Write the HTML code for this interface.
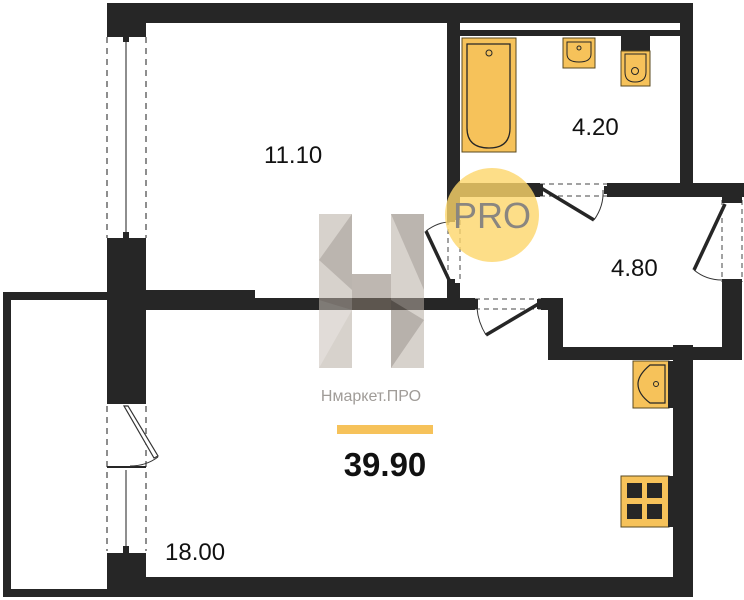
<!DOCTYPE html>
<html><head><meta charset="utf-8"><style>
html,body{margin:0;padding:0;background:#fff;width:744px;height:600px;overflow:hidden}
svg{display:block}
</style></head><body>
<svg width="744" height="600" viewBox="0 0 744 600" xmlns="http://www.w3.org/2000/svg" font-family="Liberation Sans, sans-serif">
<g fill="#262626">
<!-- top wall -->
<rect x="107" y="3" width="586" height="20"/>
<!-- left wall pieces -->
<rect x="107" y="3" width="39" height="30"/>
<rect x="107" y="238" width="39" height="164"/>
<rect x="107" y="553" width="39" height="44"/>
<!-- bottom wall -->
<rect x="107" y="577" width="586" height="20"/>
<!-- right wall living -->
<rect x="673" y="345" width="20" height="252"/>
<!-- balcony -->
<rect x="3" y="292" width="104" height="8"/>
<rect x="3" y="292" width="8" height="305"/>
<rect x="3" y="589" width="104" height="8"/>
<!-- bedroom/living wall -->
<rect x="146" y="290" width="109" height="20"/>
<rect x="146" y="298" width="329" height="12"/>
<rect x="541" y="298" width="22" height="12"/>
<rect x="548" y="298" width="15" height="62"/>
<!-- bathroom left wall -->
<rect x="447" y="23" width="13" height="197"/>
<rect x="447" y="283" width="13" height="27"/>
<!-- bathroom inner top strip -->
<rect x="460" y="30" width="220" height="6"/>
<!-- bathroom right wall -->
<rect x="680" y="3" width="13" height="194"/>
<!-- bath/hall wall -->
<rect x="447" y="183" width="93" height="14"/>
<rect x="607" y="183" width="137" height="14"/>
<!-- hall right wall -->
<rect x="722" y="183" width="20" height="17"/>
<rect x="722" y="282" width="20" height="78"/>
<!-- hall bottom wall -->
<rect x="548" y="347" width="194" height="13"/>
</g>
<rect x="460" y="23" width="220" height="7" fill="#fff"/>
<!-- left windows -->
<g stroke="#444" stroke-width="1.2" fill="none">
<line x1="107" y1="37" x2="107" y2="238" stroke-dasharray="6,5"/>
<line x1="146" y1="37" x2="146" y2="238" stroke-dasharray="6,5"/>
<line x1="126" y1="40" x2="126" y2="234"/>
<line x1="107" y1="406" x2="107" y2="551" stroke-dasharray="6,5"/>
<line x1="146" y1="406" x2="146" y2="551" stroke-dasharray="6,5"/>
<line x1="126" y1="470" x2="126" y2="550"/>
</g>
<g fill="#262626">
<rect x="107" y="33" width="39" height="4"/><rect x="123" y="37" width="6" height="5"/>
<rect x="123" y="232" width="6" height="6"/>
<rect x="107" y="402" width="39" height="2"/><rect x="107" y="466" width="39" height="2"/>
<rect x="123" y="546" width="6" height="7"/>
</g>
<polygon points="124,406 128,406 158,456 154,458" fill="#fff" stroke="#333" stroke-width="1.2"/>
<path d="M130 466 Q146 466 158 457" stroke="#333" fill="none"/>
<!-- dashed door openings -->
<g stroke="#444" stroke-width="1" fill="none" stroke-dasharray="5,4">
<line x1="540" y1="184" x2="607" y2="184"/><line x1="540" y1="196" x2="607" y2="196"/>
<line x1="448" y1="220" x2="448" y2="283"/><line x1="460" y1="220" x2="460" y2="283"/>
<line x1="475" y1="299" x2="541" y2="299"/><line x1="475" y1="309" x2="541" y2="309"/>
<line x1="722" y1="200" x2="722" y2="282"/><line x1="742" y1="200" x2="742" y2="282"/>
</g>
<!-- door leaves -->
<g stroke="#262626" stroke-width="3.5" fill="none">
<line x1="541" y1="188" x2="594" y2="220"/>
<line x1="450" y1="282" x2="426" y2="231"/>
<line x1="540" y1="303" x2="486" y2="335"/>
<line x1="725" y1="204" x2="694" y2="270"/>
</g>
<g stroke="#333" stroke-width="1" fill="none">
<path d="M594 220 Q604 206 603 190"/>
<path d="M426 231 Q438 222 450 222"/>
<path d="M486 335 Q478 322 477 308"/>
<path d="M694 270 Q706 280 722 280"/>
</g>
<g fill="#262626">
<rect x="536" y="184" width="7" height="12"/><rect x="604" y="186" width="5" height="8"/>
<rect x="447" y="216" width="8" height="6"/><rect x="447" y="279" width="8" height="6"/>
<rect x="473" y="299" width="5" height="10"/><rect x="537" y="299" width="6" height="10"/>
<rect x="722" y="198" width="20" height="5"/><rect x="722" y="279" width="20" height="5"/>
</g>
<!-- bathtub -->
<rect x="462" y="38" width="54" height="114" fill="#f6c25a" stroke="#5a4a20" stroke-width="1"/>
<path d="M467 44 H510 V128 Q510 148 489 148 Q467 148 467 128 Z" fill="#f6c25a" stroke="#262626" stroke-width="1.3"/>
<circle cx="489" cy="53" r="3" fill="none" stroke="#262626"/>
<!-- sink bath -->
<rect x="563" y="38" width="32" height="30" fill="#f6c25a" stroke="#5a4a20"/>
<path d="M567 42 H591 V54 Q591 62 579 62 Q567 62 567 54 Z" fill="none" stroke="#262626"/>
<circle cx="579" cy="48" r="2" fill="none" stroke="#262626"/>
<!-- toilet -->
<rect x="621" y="36" width="29" height="15" fill="#262626"/>
<rect x="621" y="51" width="29" height="35" fill="#f6c25a" stroke="#5a4a20"/>
<path d="M625 54 H646 V72 Q646 82 635 82 Q625 82 625 72 Z" fill="none" stroke="#262626"/>
<circle cx="635" cy="71" r="3.5" fill="none" stroke="#262626"/>
<!-- kitchen sink -->
<rect x="633" y="361" width="36" height="47" fill="#f6c25a" stroke="#5a4a20"/>
<rect x="668" y="361" width="5" height="47" fill="#262626"/>
<path d="M665 365 H650 Q638 375 638 384 Q638 394 650 403 H665 Z" fill="none" stroke="#262626" stroke-width="1.2"/>
<circle cx="656" cy="384" r="2.5" fill="none" stroke="#262626"/>
<!-- stove -->
<rect x="621" y="476" width="48" height="51" fill="#f6c25a" stroke="#5a4a20"/>
<rect x="668" y="476" width="5" height="51" fill="#262626"/>
<g fill="#262626">
<rect x="627" y="483" width="15" height="15"/><rect x="647" y="483" width="15" height="15"/>
<rect x="627" y="504" width="15" height="15"/><rect x="647" y="504" width="15" height="15"/>
</g>
<!-- H logo -->
<g opacity="0.55">
<rect x="319" y="214" width="33" height="154" fill="#b8aea4"/>
<rect x="391" y="214" width="33" height="154" fill="#b8aea4"/>
<rect x="352" y="274" width="39" height="36" fill="#8a7e72"/>
<polygon points="319,260 352,214 352,290" fill="#857a6f"/>
<polygon points="391,214 424,214 424,290" fill="#857a6f"/>
<polygon points="319,368 319,300 352,310" fill="#c9c1b9"/>
<polygon points="391,300 424,320 391,368" fill="#7d7268"/>
</g>
<!-- PRO circle -->
<circle cx="492" cy="215" r="47" fill="#fcd66a" opacity="0.8"/>
<text x="492" y="228" font-size="36" fill="#8a8680" text-anchor="middle">PRO</text>
<text x="371" y="401" font-size="16" fill="#a09c98" text-anchor="middle">Нмаркет.ПРО</text>
<rect x="337" y="425" width="96" height="9" fill="#f6c25a"/>
<!-- labels -->
<g fill="#111">
<text x="264" y="163" font-size="24">11.10</text>
<text x="572" y="135" font-size="24">4.20</text>
<text x="611" y="276" font-size="24">4.80</text>
<text x="165" y="560" font-size="24">18.00</text>
<text x="385" y="476" font-size="33" font-weight="bold" text-anchor="middle">39.90</text>
</g>
</svg>
</body></html>
